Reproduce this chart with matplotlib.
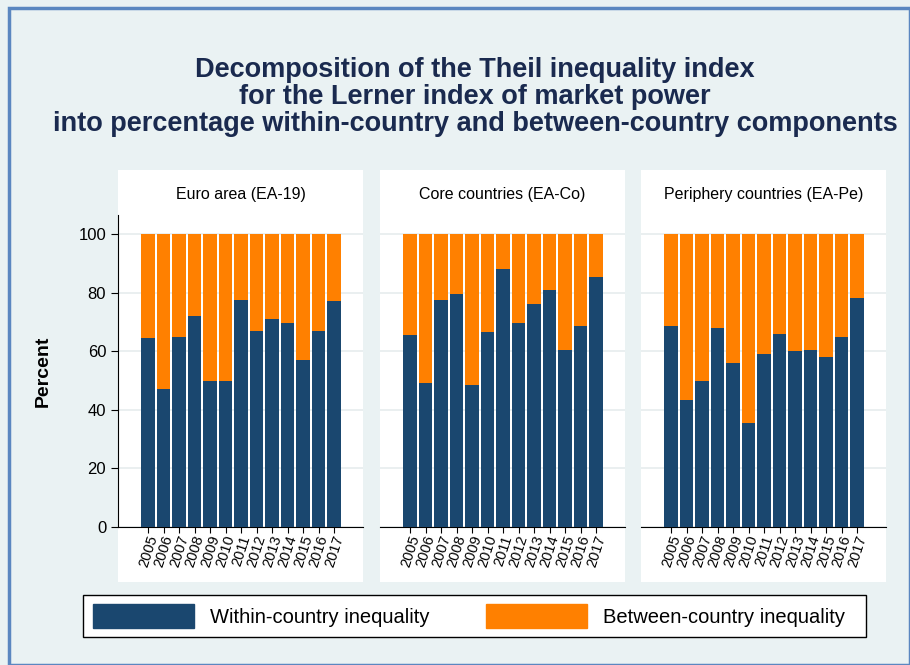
import matplotlib
matplotlib.use("Agg")
import matplotlib.pyplot as plt
from matplotlib.patches import Rectangle, Patch

years = [str(y) for y in range(2005, 2018)]
panels = ["Euro area (EA-19)", "Core countries (EA-Co)", "Periphery countries (EA-Pe)"]
within_ea = [64.5, 47, 65, 72, 50, 50, 77.5, 67, 71, 69.5, 57, 67, 77]
within_co = [65.5, 49, 77.5, 79.5, 48.5, 66.5, 88, 69.5, 76, 81, 60.5, 68.5, 85.5]
within_pe = [68.5, 43.5, 50, 68, 56, 35.5, 59, 66, 60, 60.5, 58, 65, 78]
series = [within_ea, within_co, within_pe]

W, H = 910, 665
BLUE = "#1a476f"
ORANGE = "#ff8000"
fig = plt.figure(figsize=(W/100, H/100), dpi=100, facecolor="#eaf2f3")
fig.patches.append(Rectangle((9/W, 0), (W-9)/W, (H-8)/H, transform=fig.transFigure,
                             fill=False, ec="#5b87c0", lw=2.5, zorder=-1))

def fx(x): return x / W
def fy(y): return 1 - y / H

fig.text(fx(475), fy(97), "Decomposition of the Theil inequality index\nfor the Lerner index of market power\ninto percentage within-country and between-country components",
         ha="center", va="center", fontsize=19.5, fontweight="bold", color="#1a2a4f", linespacing=1.05,
         family="Liberation Sans")

lefts = [118, 380, 641]
pw = 245
for i, (lx, name, vals) in enumerate(zip(lefts, panels, series)):
    fig.patches.append(Rectangle((fx(lx), fy(582)), pw/W, (582-170)/H, transform=fig.transFigure,
                                 fc="white", ec="none", zorder=-1))
    fig.text(fx(lx + pw/2), fy(195), name, ha="center", va="center", fontsize=11.5, family="Liberation Sans")
    ax = fig.add_axes([fx(lx), fy(527), pw/W, (527-215)/H])
    ax.set_zorder(2)
    ax.set_facecolor("white")
    x = range(len(years))
    between = [100 - v for v in vals]
    ax.bar(x, vals, width=0.86, color=BLUE, zorder=3)
    ax.bar(x, between, bottom=vals, width=0.86, color=ORANGE, zorder=3)
    ax.set_xlim(-1.94, 13.86)
    ax.set_ylim(0, 106.5)
    ax.set_yticks(range(0, 101, 20))
    ax.yaxis.grid(True, color="#e6ecee", lw=1.2, zorder=0)
    ax.set_axisbelow(True)
    ax.set_xticks(list(x))
    ax.set_xticklabels(years, rotation=72, fontsize=10.5, family="Liberation Sans", va="top", ha="center")
    ax.tick_params(axis="x", length=4, pad=1)
    for s in ["top", "right"]:
        ax.spines[s].set_visible(False)
    ax.spines["bottom"].set_color("black")
    if i == 0:
        ax.tick_params(axis="y", labelsize=12, length=5)
        for t in ax.get_yticklabels():
            t.set_family("Liberation Sans")
        ax.set_ylabel("Percent", fontsize=14, fontweight="bold", family="Liberation Sans", labelpad=19)
    else:
        ax.spines["left"].set_visible(False)
        ax.tick_params(axis="y", left=False, labelleft=False)

fig.patches.append(Rectangle((fx(83), fy(637)), (866-83)/W, 42/H, transform=fig.transFigure,
                             fc="white", ec="black", lw=1, zorder=-1))
handles = [Patch(color=BLUE, label="Within-country inequality"),
           Patch(color=ORANGE, label="Between-country inequality")]
fig.legend(handles=handles, loc="center", bbox_to_anchor=(fx(469), fy(616)), ncol=2, frameon=False,
           handlelength=5.0, handleheight=1.5, handletextpad=0.8, columnspacing=2.8,
           prop={"family": "Liberation Sans", "size": 14.5})

fig.savefig("out.png", dpi=100, facecolor=fig.get_facecolor())
